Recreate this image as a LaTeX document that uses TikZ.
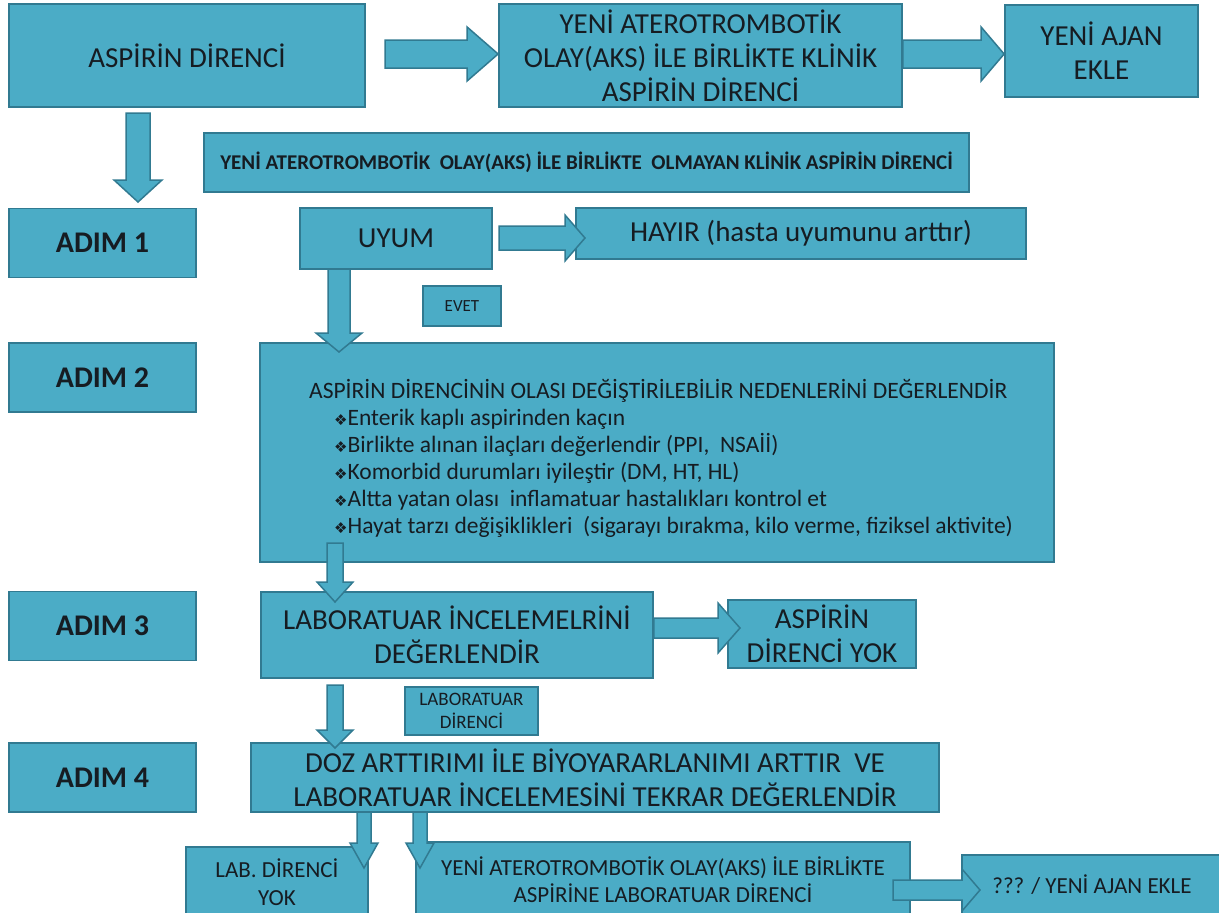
\documentclass[tikz,border=0pt]{standalone}
\usepackage{fontspec}
\setmainfont{Carlito}
\newfontfamily\sembol{DejaVu Sans}
\usepackage{tikz}
\usetikzlibrary{calc}
\definecolor{kutumavi}{RGB}{75,172,198}
\definecolor{kenarmavi}{RGB}{49,122,145}
\definecolor{yazirengi}{RGB}{22,28,34}
% blok ok: baslangic, uc, govde yari genisligi, bas yari genisligi, bas uzunlugu
\newcommand{\blokok}[5]{%
  \coordinate (ok-b) at ($(#2)!#5!(#1)$);
  \draw[okcizgi] ($(#1)!#3!90:(#2)$) -- ($(ok-b)!#3!90:(#2)$)
    -- ($(ok-b)!#4!90:(#2)$) -- (#2) -- ($(ok-b)!#4!-90:(#2)$)
    -- ($(ok-b)!#3!-90:(#2)$) -- ($(#1)!#3!-90:(#2)$) -- cycle;}
\newcommand{\madde}[1]{\hspace*{25pt}{\sembol\fontsize{15}{15}\selectfont ❖}#1}

\begin{document}
\begin{tikzpicture}[x=1pt,y=-1pt,
  kutu/.style={draw=kenarmavi,fill=kutumavi,line width=1.8pt,inner sep=0pt,
    text=yazirengi,align=center},
  buyukyazi/.style={font=\fontsize{29}{34}\selectfont},
  adimkutu/.style={kutu,minimum width=187pt,minimum height=69pt,
    font=\bfseries\fontsize{30}{34}\selectfont},
  okcizgi/.style={draw=kenarmavi,fill=kutumavi,line width=1.5pt}]
  \useasboundingbox (0,0) rectangle (1219,913);
  \clip (0,0) rectangle (1219,913);
  % ust sira
  \node[kutu,buyukyazi,minimum width=356pt,minimum height=103pt] (aspirin) at (187,55.5)
    {ASPİRİN DİRENCİ};
  \node[kutu,buyukyazi,minimum width=403pt,minimum height=103pt] (klinik) at (700.5,55.5)
    {YENİ ATEROTROMBOTİK\\OLAY(AKS) İLE BİRLİKTE KLİNİK\\ASPİRİN DİRENCİ};
  \node[kutu,buyukyazi,minimum width=193pt,minimum height=92pt] (yeniajan) at (1101.5,51)
    {YENİ AJAN\\EKLE};
  \node[kutu,minimum width=765pt,minimum height=59pt,font=\bfseries\fontsize{21}{24}\selectfont]
    (olmayan) at (586.5,162.5)
    {YENİ ATEROTROMBOTİK\ \ OLAY(AKS) İLE BİRLİKTE\ \ OLMAYAN KLİNİK ASPİRİN DİRENCİ};
  % adim 1
  \node[adimkutu] (adim1) at (102.5,243) {ADIM 1};
  \node[kutu,buyukyazi,minimum width=192pt,minimum height=61pt] (uyum) at (396,238.5) {UYUM};
  \node[kutu,buyukyazi,minimum width=450pt,minimum height=51pt] (hayir) at (801,233.5)
    {HAYIR (hasta uyumunu arttır)};
  \node[kutu,minimum width=78pt,minimum height=40pt,font=\fontsize{17}{20}\selectfont]
    (evet) at (462,306) {EVET};
  % adim 2
  \node[adimkutu] (adim2) at (102.5,377.5) {ADIM 2};
  \node[kutu,minimum width=794pt,minimum height=219pt] (nedenler) at (657,452.5) {};
  \node[anchor=north west,align=left,inner sep=0pt,text=yazirengi,
    font=\fontsize{23.5}{27}\selectfont] (nedenmetin) at (309,379)
    {ASPİRİN DİRENCİNİN OLASI DEĞİŞTİRİLEBİLİR NEDENLERİNİ DEĞERLENDİR\\
     \madde{Enterik kaplı aspirinden kaçın}\\
     \madde{Birlikte alınan ilaçları değerlendir (PPI,\ \ NSAİİ)}\\
     \madde{Komorbid durumları iyileştir (DM, HT, HL)}\\
     \madde{Altta yatan olası\ \ inflamatuar hastalıkları kontrol et}\\
     \madde{Hayat tarzı değişiklikleri\ \ (sigarayı bırakma, kilo verme, fiziksel aktivite)}};
  % adim 3
  \node[adimkutu] (adim3) at (102.5,626) {ADIM 3};
  \node[kutu,buyukyazi,minimum width=392pt,minimum height=86pt] (labinceleme) at (457,635)
    {LABORATUAR İNCELEMELRİNİ\\DEĞERLENDİR};
  \node[kutu,buyukyazi,minimum width=188pt,minimum height=68pt] (direncyok) at (822,634)
    {ASPİRİN\\DİRENCİ YOK};
  \node[kutu,minimum width=133pt,minimum height=48pt,font=\fontsize{19}{23}\selectfont]
    (labdirenc) at (471.5,711) {LABORATUAR\\DİRENCİ};
  % adim 4
  \node[adimkutu] (adim4) at (102.5,777.5) {ADIM 4};
  \node[kutu,buyukyazi,minimum width=688pt,minimum height=69pt] (doz) at (595,777.5)
    {DOZ ARTTIRIMI İLE BİYOYARARLANIMI ARTTIR\ \ VE\\
     LABORATUAR İNCELEMESİNİ TEKRAR DEĞERLENDİR};
  \node[kutu,minimum width=182pt,minimum height=70pt,font=\fontsize{23}{28}\selectfont]
    (labyok) at (277,882) {LAB. DİRENCİ\\YOK};
  \node[kutu,minimum width=494pt,minimum height=75pt,font=\fontsize{23}{27}\selectfont]
    (yenilab) at (663,879.5)
    {YENİ ATEROTROMBOTİK OLAY(AKS) İLE BİRLİKTE\\ASPİRİNE LABORATUAR DİRENCİ};
  \node[kutu,minimum width=260pt,minimum height=60pt,font=\fontsize{23}{27}\selectfont]
    (yeniajan2) at (1092,885) {??? / YENİ AJAN EKLE};
  % oklar
  \coordinate (o1a) at (385,54);
  \coordinate (o1b) at (klinik.west |- o1a);
  \blokok{o1a}{o1b}{14pt}{27pt}{31pt}
  \coordinate (o2a) at (klinik.east |- o1a);
  \coordinate (o2b) at (yeniajan.west |- o1a);
  \blokok{o2a}{o2b}{14pt}{27pt}{23pt}
  \coordinate (o3a) at (138,113);
  \coordinate (o3b) at (138,202);
  \blokok{o3a}{o3b}{12pt}{24pt}{22pt}
  \coordinate (o4a) at (499,238);
  \coordinate (o4b) at (585,238);
  \blokok{o4a}{o4b}{12pt}{23pt}{20pt}
  \coordinate (o5a) at (339,269);
  \coordinate (o5b) at (339,352);
  \blokok{o5a}{o5b}{11pt}{23pt}{19pt}
  \coordinate (o6a) at (335,543);
  \coordinate (o6b) at (335,602);
  \blokok{o6a}{o6b}{8pt}{18pt}{20pt}
  \coordinate (o7a) at (335,685);
  \coordinate (o7b) at (335,748);
  \blokok{o7a}{o7b}{8pt}{18pt}{18pt}
  \coordinate (o8a) at (labinceleme.east |- 0,628);
  \coordinate (o8b) at (740,628);
  \blokok{o8a}{o8b}{10pt}{25pt}{22pt}
  \coordinate (o9a) at (364,812);
  \coordinate (o9b) at (364,868);
  \blokok{o9a}{o9b}{7pt}{14pt}{25pt}
  \coordinate (o10a) at (420,812);
  \coordinate (o10b) at (420,868);
  \blokok{o10a}{o10b}{7pt}{14pt}{25pt}
  \coordinate (o11a) at (893,890);
  \coordinate (o11b) at (980,890);
  \blokok{o11a}{o11b}{10pt}{21pt}{18pt}
\end{tikzpicture}
\end{document}
